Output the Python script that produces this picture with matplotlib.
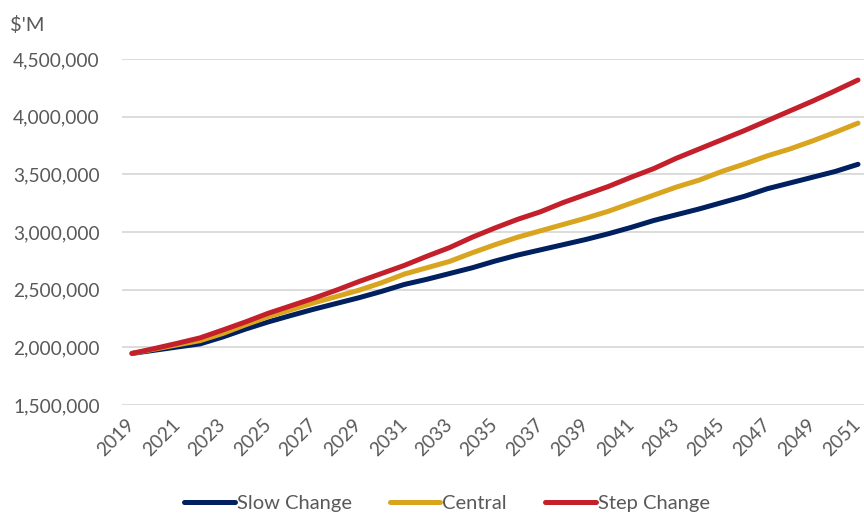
import numpy as np
import matplotlib
matplotlib.use("Agg")
import matplotlib.pyplot as plt
from matplotlib.ticker import FuncFormatter, FixedLocator

# data ($'M)
years = list(range(2019, 2052))
slow_change = [1947, 1975, 2003, 2030, 2090, 2158, 2220, 2276, 2330, 2380,
               2430, 2485, 2545, 2590, 2640, 2690, 2748, 2800, 2845, 2890,
               2935, 2985, 3040, 3100, 3150, 3200, 3255, 3310, 3375, 3425,
               3475, 3525, 3587]
central = [1947, 1985, 2022, 2058, 2120, 2195, 2265, 2325, 2385, 2440,
           2495, 2560, 2635, 2690, 2745, 2820, 2890, 2955, 3010, 3065,
           3120, 3180, 3250, 3320, 3390, 3450, 3525, 3590, 3660, 3720,
           3790, 3865, 3944]
step_change = [1947, 1990, 2035, 2082, 2150, 2220, 2295, 2360, 2425, 2495,
               2570, 2640, 2710, 2790, 2865, 2955, 3035, 3110, 3175, 3255,
               3325, 3395, 3475, 3550, 3640, 3720, 3800, 3880, 3965, 4050,
               4135, 4225, 4318]
series_names = ["Slow Change", "Central", "Step Change"]
series_colors = ["#002060", "#D9A41E", "#C3202B"]
y_ticks = [1500000, 2000000, 2500000, 3000000, 3500000, 4000000, 4500000]
x_tick_years = years[::2]

plt.rcParams['font.family'] = ['Lato', 'DejaVu Sans']
text_col = "#595959"

fig = plt.figure(figsize=(8.64, 5.13), dpi=100)
ax = fig.add_axes([122 / 864, 1 - 405 / 513, 742 / 864, (405 - 59) / 513])

for vals, name, col in zip([slow_change, central, step_change], series_names, series_colors):
    ax.plot(years, np.array(vals) * 1000, color=col, lw=3.6, label=name,
            solid_capstyle='round', solid_joinstyle='round')

ax.set_ylim(1500000, 4500000)
ax.set_xlim(2019 - 10 / 22.69, 2051 + 6 / 22.69)
ax.yaxis.set_major_locator(FixedLocator(y_ticks))
ax.yaxis.set_major_formatter(FuncFormatter(lambda v, p: f"{int(v):,}"))
ax.set_xticks(x_tick_years)
ax.set_xticklabels([str(y) for y in x_tick_years], rotation=45, ha='right',
                   va='center', rotation_mode='anchor')

ax.grid(axis='y', color='#d9d9d9', lw=1.3)
ax.set_axisbelow(True)
for s in ax.spines.values():
    s.set_visible(False)
ax.tick_params(axis='both', length=0, labelsize=13.8, labelcolor=text_col)
ax.tick_params(axis='y', pad=16)
ax.tick_params(axis='x', pad=12)

fig.text(10 / 864, 1 - 25 / 513, "$'M", fontsize=14.5, color=text_col,
         ha='left', va='center')

fig.legend(loc='center', bbox_to_anchor=(447 / 864, 1 - 503 / 513), ncol=3,
           frameon=False, fontsize=14.5, labelcolor=text_col, handlelength=2.5,
           handletextpad=0.1, columnspacing=1.9)

fig.savefig("out.png", dpi=100)
